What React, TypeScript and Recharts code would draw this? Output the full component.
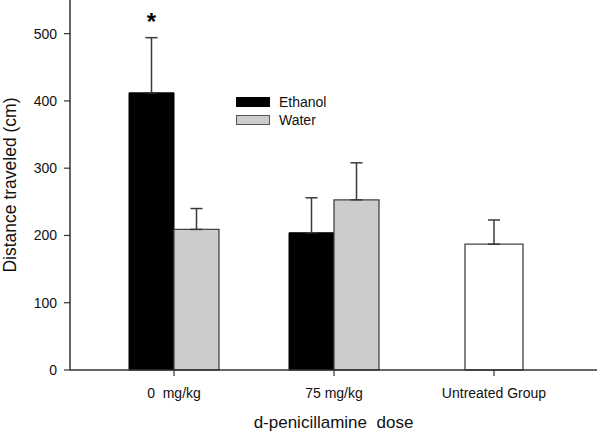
import React from 'react';
import { BarChart, Bar, XAxis, YAxis, ErrorBar, Legend, LabelList } from 'recharts';

const FONT = '"Liberation Sans", Arial, sans-serif';

const categories = ['0\u00a0 mg/kg', '75 mg/kg', 'Untreated Group'];
const ethanol = [412, 204, null];
const ethanolErr = [82, 52, null];
const water = [209, 253, null];
const waterErr = [31, 55, null];
const untreated = [null, null, 187];
const untreatedErr = [null, null, 36];
const significance = ['*', '', ''];
const yTicks = [0, 100, 200, 300, 400, 500];
const yDomain = [0, 550];
const seriesNames = ['Ethanol', 'Water', 'Untreated'];
const xTitle = 'd-penicillamine\u00a0 dose';
const yTitle = 'Distance traveled (cm)';

const oneSided = (v: number | null) => (v == null ? null : [0, v]);

const data = categories.map((c, i) => ({
  category: c,
  ethanol: ethanol[i],
  ethanolErr: oneSided(ethanolErr[i]),
  water: water[i],
  waterErr: oneSided(waterErr[i]),
  untreated: untreated[i],
  untreatedErr: oneSided(untreatedErr[i]),
}));

const renderSig = (props: any) => {
  const vb = props.viewBox ?? props;
  const x = vb.x ?? props.x;
  const y = vb.y ?? props.y;
  const width = vb.width ?? props.width;
  const height = vb.height ?? props.height;
  const index = props.index;
  if (index == null) return null;
  const mark = significance[index];
  const v = ethanol[index];
  const e = ethanolErr[index];
  if (!mark || v == null || e == null) return null;
  const ppu = height / v;
  const top = y - e * ppu;
  return (
    <text
      x={x + width / 2}
      y={top - 8}
      textAnchor="middle"
      fontSize={24}
      fontWeight="bold"
      fontFamily={FONT}
      fill="#000"
    >
      {mark}
    </text>
  );
};

const legendStyles: Record<string, { fill: string; stroke: string }> = {
  Ethanol: { fill: '#000000', stroke: '#000000' },
  Water: { fill: '#cccccc', stroke: '#555555' },
};

const renderLegend = () => (
  <div style={{ fontFamily: FONT }}>
    {seriesNames
      .filter((n) => legendStyles[n])
      .map((n) => (
        <div key={n} style={{ display: 'flex', alignItems: 'center', height: 18 }}>
          <div
            style={{
              width: 32,
              height: 8,
              background: legendStyles[n].fill,
              border: `1px solid ${legendStyles[n].stroke}`,
              marginRight: 9,
            }}
          />
          <span style={{ fontSize: 14, color: '#111' }}>{n}</span>
        </div>
      ))}
  </div>
);

const ERR = '#3a3a3a';

export default function App() {
  return (
    <div style={{ position: 'absolute', left: 0, top: 0, width: 600, height: 435, background: '#fff' }}>
      <BarChart
        width={600}
        height={435}
        data={data}
        margin={{ top: 0, right: 3, bottom: 0, left: 0 }}
        barGap={0}
        barCategoryGap={0}
      >
        <XAxis
          xAxisId="main"
          dataKey="category"
          padding={{ left: 24, right: 23 }}
          height={65}
          interval={0}
          tickSize={6}
          tickMargin={12}
          axisLine={{ stroke: '#333', strokeWidth: 1.5 }}
          tickLine={{ stroke: '#333', strokeWidth: 1.2 }}
          tick={{ fill: '#111', fontSize: 14, fontFamily: FONT }}
          label={{ value: xTitle, position: 'insideBottom', offset: 7, fill: '#111', fontSize: 17, fontFamily: FONT }}
        />
        <XAxis xAxisId="solo" dataKey="category" hide padding={{ left: 24, right: 23 }} />
        <YAxis
          domain={yDomain}
          ticks={yTicks}
          width={70}
          tickSize={6}
          tickMargin={7}
          axisLine={{ stroke: '#333', strokeWidth: 1.5 }}
          tickLine={{ stroke: '#333', strokeWidth: 1.2 }}
          tick={{ fill: '#111', fontSize: 14, fontFamily: FONT }}
          label={{
            value: yTitle,
            angle: -90,
            position: 'insideLeft',
            offset: 10,
            style: { textAnchor: 'middle' },
            fill: '#111',
            fontSize: 17.5,
            fontFamily: FONT,
          }}
        />
        <Legend
          layout="vertical"
          align="center"
          verticalAlign="middle"
          content={renderLegend}
          wrapperStyle={{ left: 236, top: 93, width: 'auto' }}
        />
        <Bar xAxisId="main" dataKey="ethanol" name={seriesNames[0]} fill="#000" stroke="#000" barSize={45} isAnimationActive={false}>
          <ErrorBar dataKey="ethanolErr" direction="y" width={6} stroke={ERR} strokeWidth={1.5} />
          <LabelList dataKey="ethanol" content={renderSig} />
        </Bar>
        <Bar xAxisId="main" dataKey="water" name={seriesNames[1]} fill="#cccccc" stroke="#444" strokeWidth={1.3} barSize={45} isAnimationActive={false}>
          <ErrorBar dataKey="waterErr" direction="y" width={6} stroke={ERR} strokeWidth={1.5} />
        </Bar>
        <Bar xAxisId="solo" dataKey="untreated" name={seriesNames[2]} legendType="none" fill="#fff" stroke="#444" strokeWidth={1.3} barSize={58} isAnimationActive={false}>
          <ErrorBar dataKey="untreatedErr" direction="y" width={6} stroke={ERR} strokeWidth={1.5} />
        </Bar>
      </BarChart>
    </div>
  );
}
